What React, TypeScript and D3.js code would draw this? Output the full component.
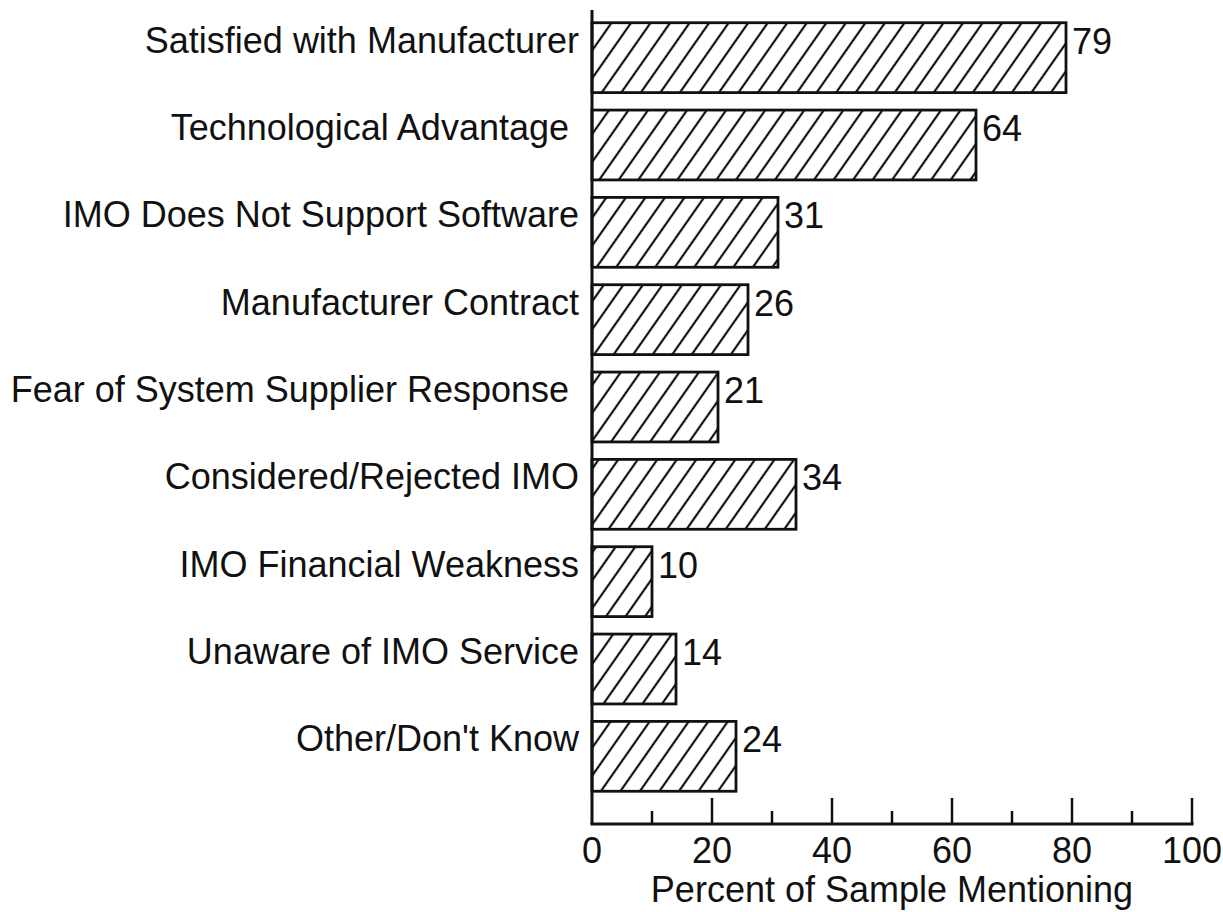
import React, { useEffect, useRef } from "react";
import * as d3 from "d3";

const categories = [
  "Satisfied with Manufacturer",
  "Technological Advantage ",
  "IMO Does Not Support Software",
  "Manufacturer Contract",
  "Fear of System Supplier Response ",
  "Considered/Rejected IMO",
  "IMO Financial Weakness",
  "Unaware of IMO Service",
  "Other/Don't Know",
];
const values = [79, 64, 31, 26, 21, 34, 10, 14, 24];
const majorTicks = [0, 20, 40, 60, 80, 100];
const minorTicks = [10, 30, 50, 70, 90];
const xTitle = "Percent of Sample Mentioning";

const width = 1223;
const height = 912;

export default function App() {
  const ref = useRef<SVGSVGElement>(null);

  useEffect(() => {
    const svg = d3.select(ref.current);
    svg.selectAll("*").remove();
    const font = "'Liberation Sans', Arial, Helvetica, sans-serif";
    const fs = 36;

    const x = d3.scaleLinear().domain([0, 100]).range([592, 1192]);
    const y = d3
      .scaleBand()
      .domain(categories)
      .range([14, 800])
      .paddingInner(0.2)
      .paddingOuter(0.1);
    const axisY = 824;

    // hatch pattern
    const defs = svg.append("defs");
    const pat = defs
      .append("pattern")
      .attr("id", "hatch")
      .attr("patternUnits", "userSpaceOnUse")
      .attr("width", 16)
      .attr("height", 16)
      .attr("patternTransform", "rotate(35)");
    pat
      .append("line")
      .attr("x1", 2)
      .attr("y1", -1)
      .attr("x2", 2)
      .attr("y2", 17)
      .attr("stroke", "#111")
      .attr("stroke-width", 2.2);

    // bars
    svg
      .append("g")
      .selectAll("rect")
      .data(values)
      .join("rect")
      .attr("x", x(0))
      .attr("y", (d, i) => y(categories[i]) as number)
      .attr("width", (d) => x(d) - x(0))
      .attr("height", y.bandwidth())
      .attr("fill", "url(#hatch)")
      .attr("stroke", "#111")
      .attr("stroke-width", 2.8);

    // value labels
    svg
      .append("g")
      .selectAll("text")
      .data(values)
      .join("text")
      .attr("x", (d) => x(d) + 6)
      .attr("y", (d, i) => (y(categories[i]) as number) + 31)
      .attr("font-family", font)
      .attr("font-size", fs)
      .attr("fill", "#111")
      .text((d) => d);

    // category labels
    svg
      .append("g")
      .selectAll("text")
      .data(categories)
      .join("text")
      .attr("xml:space", "preserve")
      .style("white-space", "pre")
      .attr("x", 579)
      .attr("y", (d) => (y(d) as number) + 30)
      .attr("text-anchor", "end")
      .attr("font-family", font)
      .attr("font-size", fs)
      .attr("fill", "#111")
      .text((d) => d);

    // axes
    svg
      .append("line")
      .attr("x1", x(0))
      .attr("x2", x(0))
      .attr("y1", 10)
      .attr("y2", axisY)
      .attr("stroke", "#111")
      .attr("stroke-width", 3);
    svg
      .append("line")
      .attr("x1", x(0) - 1.5)
      .attr("x2", x(100) + 1.5)
      .attr("y1", axisY)
      .attr("y2", axisY)
      .attr("stroke", "#111")
      .attr("stroke-width", 3);

    svg
      .append("g")
      .selectAll("line")
      .data(majorTicks.filter((d) => d > 0))
      .join("line")
      .attr("x1", (d) => x(d))
      .attr("x2", (d) => x(d))
      .attr("y1", axisY)
      .attr("y2", axisY - 26)
      .attr("stroke", "#111")
      .attr("stroke-width", 2.5);
    svg
      .append("g")
      .selectAll("line")
      .data(minorTicks)
      .join("line")
      .attr("x1", (d) => x(d))
      .attr("x2", (d) => x(d))
      .attr("y1", axisY)
      .attr("y2", axisY - 13)
      .attr("stroke", "#111")
      .attr("stroke-width", 2.5);

    svg
      .append("g")
      .selectAll("text")
      .data(majorTicks)
      .join("text")
      .attr("x", (d) => x(d))
      .attr("y", 863)
      .attr("text-anchor", "middle")
      .attr("font-family", font)
      .attr("font-size", fs)
      .attr("fill", "#111")
      .text((d) => d);

    svg
      .append("text")
      .attr("x", (x(0) + x(100)) / 2)
      .attr("y", 902)
      .attr("text-anchor", "middle")
      .attr("font-family", font)
      .attr("font-size", fs)
      .attr("fill", "#111")
      .text(xTitle);
  }, []);

  return (
    <svg
      ref={ref}
      width={width}
      height={height}
      style={{ position: "absolute", left: 0, top: 0, background: "#fff" }}
    />
  );
}
